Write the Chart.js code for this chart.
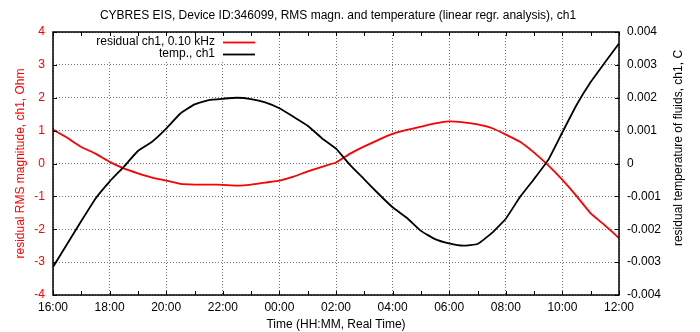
<!DOCTYPE html>
<html><head><meta charset="utf-8">
<script src="https://cdn.jsdelivr.net/npm/chart.js@4/dist/chart.umd.min.js"></script>
<style>html,body{margin:0;padding:0;background:#fff}#wrap{width:700px;height:332px;position:relative}</style>
</head><body><div id="wrap"><canvas id="c" width="700" height="332"></canvas></div>
<script>
// ---- data (hours since 16:00) ----
const timeHours = [0,0.5,1,1.5,2,2.5,3,3.5,4,4.5,5,5.5,6,6.5,7,7.5,8,8.5,9,9.5,10,10.5,11,11.5,12,12.5,13,13.5,14,14.5,15,15.5,16,16.5,17,17.5,18,18.5,19,19.5,20];
const residualOhm = [1.03,0.78,0.50,0.30,0.05,-0.15,-0.30,-0.43,-0.52,-0.62,-0.64,-0.64,-0.65,-0.67,-0.64,-0.58,-0.52,-0.40,-0.24,-0.10,0.03,0.30,0.52,0.72,0.90,1.02,1.12,1.22,1.28,1.25,1.19,1.08,0.88,0.66,0.33,-0.06,-0.50,-0.99,-1.52,-1.88,-2.27];
const tempC = [-0.00315,-0.00245,-0.00175,-0.00107,-0.00055,-0.00010,0.00038,0.00066,0.00106,0.00152,0.00180,0.00193,0.00197,0.00200,0.00196,0.00186,0.00168,0.00142,0.00115,0.00077,0.00045,-0.00005,-0.00048,-0.00092,-0.00133,-0.00165,-0.00205,-0.00230,-0.00243,-0.00250,-0.00245,-0.00212,-0.00168,-0.00102,-0.00047,0.00011,0.00095,0.00178,0.00248,0.00307,0.00365];
const xTickLabels = ['16:00','18:00','20:00','22:00','00:00','02:00','04:00','06:00','08:00','10:00','12:00'];
const leftTickLabels = ['-4','-3','-2','-1','0','1','2','3','4'];
const rightTickLabels = ['-0.004','-0.003','-0.002','-0.001','0','0.001','0.002','0.003','0.004'];
const seriesLabels = ['residual ch1, 0.10 kHz','temp., ch1'];
const titleText = 'CYBRES EIS, Device ID:346099, RMS magn. and temperature (linear regr. analysis), ch1';
const xTitle = 'Time (HH:MM, Real Time)';
const leftTitle = 'residual RMS magnitude, ch1, Ohm';
const rightTitle = 'residual temperature of fluids, ch1, C';

const FONT = '"Liberation Sans", Arial, sans-serif';
Chart.defaults.font.family = FONT;
Chart.defaults.font.size = 12;
Chart.defaults.color = '#000';

const decor = {
  id: 'decor',
  beforeDatasetsDraw(chart) {
    const ctx = chart.ctx;
    ctx.save();
    ctx.fillStyle = '#fff';
    ctx.fillRect(96, 34, 163, 27);
    ctx.restore();
  },
  afterDraw(chart) {
    const {ctx, chartArea: a, scales: {x, y}} = chart;
    ctx.save();
    // title
    ctx.fillStyle = '#000';
    ctx.font = '12px ' + FONT;
    ctx.textAlign = 'center';
    ctx.textBaseline = 'middle';
    ctx.fillText(titleText, (a.left + a.right) / 2 + 2, 16);
    // right axis title (reads bottom to top)
    ctx.save();
    ctx.translate(679, 148);
    ctx.rotate(-Math.PI / 2);
    ctx.fillText(rightTitle, 0, 0);
    ctx.restore();
    // tick marks
    ctx.strokeStyle = '#000';
    ctx.lineWidth = 1;
    ctx.beginPath();
    for (let h = x.min; h <= x.max; h += 1) {
      const px = Math.round(x.getPixelForValue(h)) + 0.5;
      ctx.moveTo(px, a.top); ctx.lineTo(px, a.top + 4);
      ctx.moveTo(px, a.bottom); ctx.lineTo(px, a.bottom - 4);
    }
    for (let v = y.min; v <= y.max; v += 1) {
      const py = Math.round(y.getPixelForValue(v)) + 0.5;
      ctx.moveTo(a.left, py); ctx.lineTo(a.left + 4, py);
      ctx.moveTo(a.right, py); ctx.lineTo(a.right - 4, py);
    }
    ctx.stroke();
    // frame
    ctx.lineWidth = 1.5;
    ctx.strokeRect(a.left, a.top, a.right - a.left, a.bottom - a.top);
    // legend
    ctx.textAlign = 'right';
    const ds = chart.data.datasets;
    const rows = [42, 54];
    ds.forEach((d, i) => {
      ctx.fillStyle = '#000';
      ctx.fillText(d.label, 215, rows[i]);
      ctx.strokeStyle = d.borderColor;
      ctx.lineWidth = 1.8;
      ctx.beginPath();
      ctx.moveTo(223, rows[i] + 0.5); ctx.lineTo(255, rows[i] + 0.5);
      ctx.stroke();
    });
    ctx.restore();
  }
};

const gridStyle = { color: 'rgba(0,0,0,0.55)', lineWidth: 1, drawTicks: false };

new Chart(document.getElementById('c'), {
  type: 'line',
  data: {
    datasets: [
      { label: seriesLabels[0], data: timeHours.map((t, i) => ({x: t, y: residualOhm[i]})),
        borderColor: '#ff0000', borderWidth: 1.8, pointRadius: 0, yAxisID: 'y', order: 2, tension: 0.12 },
      { label: seriesLabels[1], data: timeHours.map((t, i) => ({x: t, y: tempC[i]})),
        borderColor: '#000000', borderWidth: 1.8, pointRadius: 0, yAxisID: 'y1', order: 1, tension: 0.12 }
    ]
  },
  options: {
    responsive: false, animation: false, devicePixelRatio: 1,
    layout: { padding: { top: 32, left: 0, right: 0, bottom: 0 } },
    plugins: { legend: { display: false }, title: { display: false }, tooltip: { enabled: false } },
    scales: {
      x: {
        type: 'linear', min: 0, max: 20,
        border: { display: false, dash: [1, 2] },
        grid: gridStyle,
        ticks: { stepSize: 2, padding: 5, maxRotation: 0, autoSkip: false,
                 callback: (v, i) => xTickLabels[i] },
        title: { display: true, text: xTitle, padding: { top: 0, bottom: 0 } },
        afterFit: s => { s.height = 37; }
      },
      y: {
        position: 'left', min: -4, max: 4,
        border: { display: false, dash: [1, 2] },
        grid: gridStyle,
        ticks: { stepSize: 1, padding: 8, color: '#ff0000', callback: (v, i) => leftTickLabels[i] },
        title: { display: true, text: leftTitle, color: '#ff0000', padding: { top: 13, bottom: 0 } },
        afterFit: s => { s.width = 53; }
      },
      y1: {
        position: 'right', min: -0.004, max: 0.004,
        border: { display: false },
        grid: { display: false, drawTicks: false },
        ticks: { stepSize: 0.001, padding: 8, callback: (v, i) => rightTickLabels[i] },
        afterFit: s => { s.width = 81; }
      }
    }
  },
  plugins: [decor]
});
</script>
</body></html>
